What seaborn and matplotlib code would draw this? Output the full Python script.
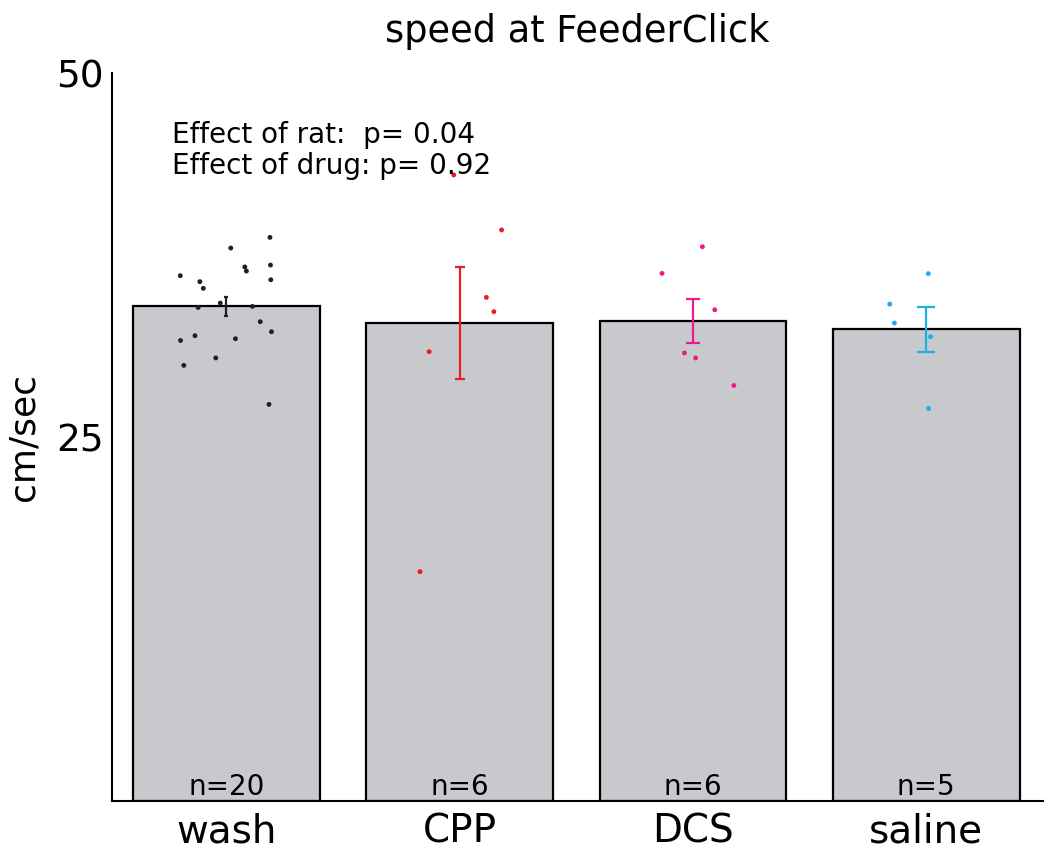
# Bar chart of running speed at the feeder click, per drug condition,
# with individual sessions as dots and SEM error bars.

import numpy as np
import pandas as pd
import seaborn as sns
import matplotlib.pyplot as plt

# Data (cm/sec)
groups = ['wash', 'CPP', 'DCS', 'saline']
wash_speed = [38.71, 37.98, 36.81, 36.40, 36.68, 35.67, 35.80, 36.08, 35.21, 34.20,
              33.97, 33.90, 32.92, 32.23, 31.96, 31.75, 31.63, 30.43, 29.92, 27.24]
cpp_speed = [43.00, 39.22, 34.59, 33.61, 30.86, 15.75]
dcs_speed = [38.07, 36.24, 33.74, 30.77, 30.43, 28.54]
saline_speed = [36.22, 34.13, 32.83, 31.89, 26.96]
stats_lines = ['Effect of rat:  p= 0.04', 'Effect of drug: p= 0.92']

dot_colors = ['#231f20', '#ed1c24', '#ec1c8c', '#1cb0ea']
cap_sizes = [1.5, 3.4, 5, 6.5]

df = pd.DataFrame({
    'drug': ['wash'] * len(wash_speed) + ['CPP'] * len(cpp_speed)
            + ['DCS'] * len(dcs_speed) + ['saline'] * len(saline_speed),
    'speed': wash_speed + cpp_speed + dcs_speed + saline_speed,
})

sns.set_style('white')
plt.rcParams['font.family'] = ['DejaVu Sans']
plt.rcParams['text.color'] = 'black'
plt.rcParams['axes.labelcolor'] = 'black'
plt.rcParams['xtick.color'] = 'black'
plt.rcParams['ytick.color'] = 'black'

fig = plt.figure(figsize=(10.5, 8.6), dpi=100)
ax = fig.add_axes([0.1067, 0.0686, 0.8866, 0.8465])

sns.barplot(data=df, x='drug', y='speed', order=groups, errorbar=None,
            color='#c8c9cc', saturation=1, edgecolor='black', linewidth=1.6,
            width=0.8, ax=ax)

np.random.seed(4)
sns.stripplot(data=df, x='drug', y='speed', order=groups, hue='drug',
              hue_order=groups, palette=dict(zip(groups, dot_colors)),
              legend=False, jitter=0.2, size=3.5, linewidth=0, ax=ax)

summary = df.groupby('drug')['speed'].agg(['mean', 'sem', 'count']).reindex(groups)
for i, g in enumerate(groups):
    ax.errorbar(i, summary.loc[g, 'mean'], yerr=summary.loc[g, 'sem'],
                color=dot_colors[i], capsize=cap_sizes[i], lw=1.6,
                capthick=1.6, zorder=5)
    ax.text(i, 0.43, f"n={summary.loc[g, 'count']}", ha='center',
            va='baseline', fontsize=20)

ax.text(0.0644, 0.9038, stats_lines[0], transform=ax.transAxes,
        ha='left', va='baseline', fontsize=20)
ax.text(0.0644, 0.8617, stats_lines[1], transform=ax.transAxes,
        ha='left', va='baseline', fontsize=20)

ax.set_xlim(-0.49, 3.5)
ax.set_ylim(0, 50)
ax.set_yticks([25, 50])
ax.set_title('speed at FeederClick', fontsize=26.5, pad=22)
ax.set_xlabel('')
ax.set_ylabel('cm/sec', fontsize=26, labelpad=11)
ax.tick_params(axis='y', direction='in', length=8, width=1.2, labelsize=27, pad=6)
ax.tick_params(axis='x', length=0, labelsize=28, pad=8)

for side in ['top', 'right']:
    ax.spines[side].set_visible(False)
for side in ['left', 'bottom']:
    ax.spines[side].set_color('black')
    ax.spines[side].set_linewidth(1.5)

plt.savefig('out.png', dpi=100)
